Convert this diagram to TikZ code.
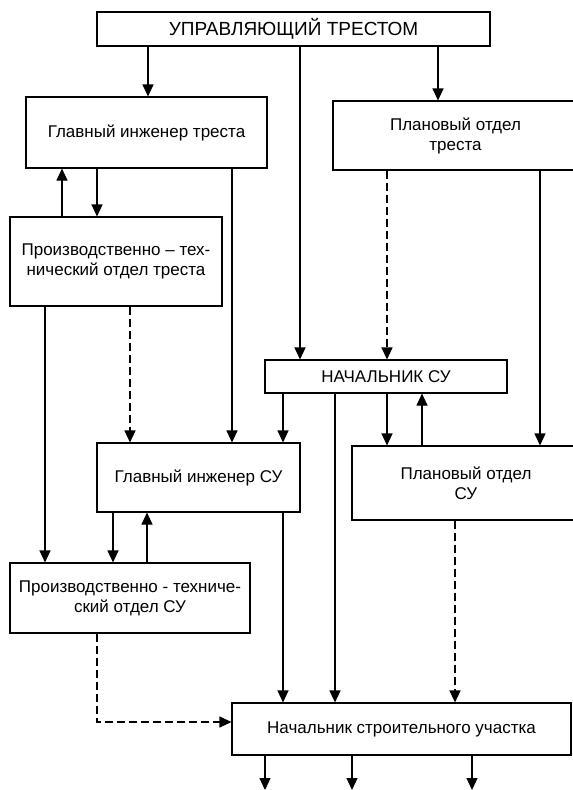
\documentclass[tikz,border=0pt]{standalone}
\usepackage{fontspec}
\setmainfont{Liberation Sans}
\usetikzlibrary{arrows.meta}

\begin{document}
\begin{tikzpicture}[x=1pt, y=-1pt,
    blok/.style={draw, line width=1.1pt, inner sep=0pt, align=center,
        font=\fontsize{17}{20}\selectfont},
    arr/.style={line width=1.1pt, -{Triangle[length=12pt, width=11pt]}},
    darr/.style={arr, dash pattern=on 8pt off 4pt}]
    \useasboundingbox (0,0) rectangle (573,790);

    % blocks
    \node[blok, minimum width=393pt, minimum height=34pt, font=\fontsize{19}{22}\selectfont] (upr) at (293.5,29) {УПРАВЛЯЮЩИЙ ТРЕСТОМ};
    \node[blok, minimum width=241pt, minimum height=71pt] (gitr) at (146.5,132.5) {Главный инженер треста};
    \node[blok, minimum width=245pt, minimum height=69pt] (pltr) at (455.5,135.5) {Плановый отдел\\треста};
    \node[blok, minimum width=212pt, minimum height=89pt] (ptotr) at (116,261.5) {Производственно – тех-\\нический отдел треста};
    \node[blok, minimum width=242pt, minimum height=33pt] (nsu) at (386,376.5) {НАЧАЛЬНИК СУ};
    \node[blok, minimum width=203pt, minimum height=69pt] (gisu) at (198.5,477.5) {Главный инженер СУ};
    \node[blok, minimum width=228pt, minimum height=74pt] (plsu) at (466,483) {Плановый отдел\\СУ};
    \node[blok, minimum width=240pt, minimum height=70pt] (ptosu) at (130,598) {Производственно - техниче-\\ский отдел СУ};
    \node[blok, minimum width=339pt, minimum height=52pt] (nuch) at (401.5,729) {Начальник строительного участка};

    % columns of the connectors
    \foreach \x in {45,62,97,113,130,147,148,232,265,283,300,335,352,387,422,438,455,472,540}
        \coordinate (x\x) at (\x,0);
    \coordinate (bot) at (0,790);

    \draw[arr] (upr.south -| x148) -- (gitr.north -| x148);
    \draw[arr] (upr.south -| x300) -- (nsu.north -| x300);
    \draw[arr] (upr.south -| x438) -- (pltr.north -| x438);

    \draw[arr] (ptotr.north -| x62) -- (gitr.south -| x62);
    \draw[arr] (gitr.south -| x97) -- (ptotr.north -| x97);
    \draw[arr] (gitr.south -| x232) -- (gisu.north -| x232);
    \draw[darr] (pltr.south -| x387) -- (nsu.north -| x387);
    \draw[arr] (pltr.south -| x540) -- (plsu.north -| x540);

    \draw[arr] (ptotr.south -| x45) -- (ptosu.north -| x45);
    \draw[darr] (ptotr.south -| x130) -- (gisu.north -| x130);

    \draw[arr] (nsu.south -| x283) -- (gisu.north -| x283);
    \draw[arr] (nsu.south -| x335) -- (nuch.north -| x335);
    \draw[arr] (nsu.south -| x387) -- (plsu.north -| x387);
    \draw[arr] (plsu.north -| x422) -- (nsu.south -| x422);

    \draw[arr] (gisu.south -| x113) -- (ptosu.north -| x113);
    \draw[arr] (ptosu.north -| x147) -- (gisu.south -| x147);
    \draw[arr] (gisu.south -| x283) -- (nuch.north -| x283);
    \draw[darr] (plsu.south -| x455) -- (nuch.north -| x455);
    \draw[darr] (ptosu.south -| x97) |- ([yshift=7pt]nuch.west);

    \foreach \x in {265,352,472}
        \draw[arr] (nuch.south -| x\x) -- (bot -| x\x);
\end{tikzpicture}
\end{document}
